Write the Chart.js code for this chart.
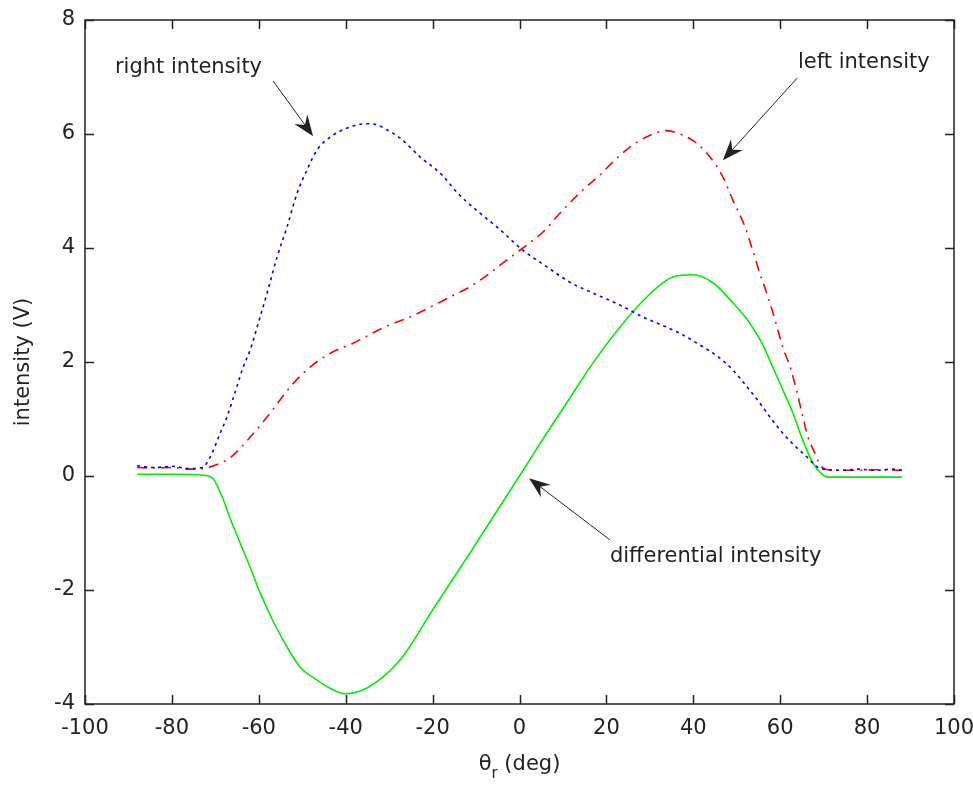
<!DOCTYPE html>
<html lang="en">
<head>
    <meta charset="UTF-8">
    <title>Intensity vs angle</title>
    <script src="https://cdn.jsdelivr.net/npm/chart.js"></script>
    <style>
        body { margin: 0; background: #fff; }
        canvas { display: block; }
    </style>
</head>
<body>
    <canvas id="intensityChart" width="973" height="785"></canvas>

    <script>
        // angles (deg) and readings for each trace
        const rightAngle = [-88, -84, -80, -76, -73, -71.2, -68.9, -67.3, -65.5, -63.6, -62, -59.7, -57.9, -55.8, -53.5, -51.2, -48.9, -46.6, -42.9, -37.4, -35, -32.8, -29.8, -27.5, -22.9, -17.8, -14.2, -9.1, -5.2, 0.8, 6.3, 11.6, 16.9, 23.1, 28.4, 36.2, 41.5, 46.1, 49.1, 52.4, 55.3, 57.6, 60.6, 63.9, 66.2, 68.5, 70, 74, 78, 82, 86, 88];
        const rightIntensity = [0.18, 0.15, 0.17, 0.13, 0.15, 0.33, 0.75, 1.04, 1.46, 1.91, 2.21, 2.79, 3.26, 3.84, 4.37, 4.96, 5.37, 5.72, 5.98, 6.16, 6.18, 6.16, 6.04, 5.93, 5.6, 5.28, 4.96, 4.61, 4.37, 3.96, 3.67, 3.4, 3.21, 3.0, 2.79, 2.53, 2.3, 2.07, 1.86, 1.56, 1.28, 1.04, 0.75, 0.49, 0.33, 0.16, 0.12, 0.1, 0.12, 0.1, 0.12, 0.1];

        const leftAngle = [-88, -84, -80, -76, -73, -71.2, -66.6, -62, -57.4, -52.8, -48.2, -42.9, -38.3, -31.4, -25.2, -20.6, -16, -11.4, -6.8, -2.9, 0.8, 5.4, 9.3, 14.6, 18.5, 21.5, 25.4, 29.3, 33.9, 36.9, 40.4, 43.8, 46.8, 49.1, 51.9, 53.5, 55.3, 57.2, 58.8, 60.6, 62.3, 63.9, 65.2, 66.4, 68, 69.2, 70.5, 74, 78, 82, 86, 88];
        const leftIntensity = [0.15, 0.14, 0.15, 0.12, 0.13, 0.16, 0.32, 0.68, 1.1, 1.56, 1.91, 2.18, 2.33, 2.6, 2.79, 2.96, 3.14, 3.32, 3.56, 3.79, 4.0, 4.28, 4.61, 5.02, 5.28, 5.51, 5.77, 5.95, 6.06, 6.0, 5.86, 5.6, 5.25, 4.84, 4.37, 4.0, 3.56, 3.14, 2.74, 2.26, 1.91, 1.46, 1.04, 0.68, 0.4, 0.19, 0.12, 0.1, 0.1, 0.11, 0.1, 0.1];

        const diffAngle = [-88, -80, -72, -70.5, -68.5, -66.6, -62, -59.7, -57, -54.4, -50.5, -46.6, -42.9, -40.2, -35.1, -27.5, -20, -11.4, 0, 5, 11.6, 16.9, 23.1, 29.3, 35.3, 39.9, 44.5, 49.1, 53, 55.8, 58.3, 60.6, 62.9, 65.2, 67.5, 69.8, 71, 80, 88];
        const diffIntensity = [0.03, 0.03, 0.01, -0.05, -0.35, -0.74, -1.6, -2.05, -2.5, -2.88, -3.35, -3.58, -3.75, -3.82, -3.72, -3.23, -2.35, -1.35, 0, 0.6, 1.37, 1.98, 2.61, 3.14, 3.49, 3.53, 3.39, 3.04, 2.68, 2.33, 1.91, 1.51, 1.11, 0.63, 0.23, 0.02, -0.02, -0.02, -0.02];

        const xTicks = [-100, -80, -60, -40, -20, 0, 20, 40, 60, 80, 100];
        const yTicks = [-4, -2, 0, 2, 4, 6, 8];

        // text label, label anchor, arrow start, arrow tip (data coords)
        const notes = [
            { text: 'right intensity', at: [-93.1, 7.16], from: [-56.7, 6.93], to: [-47.5, 5.96] },
            { text: 'left intensity', at: [64.1, 7.25], from: [63.9, 6.98], to: [46.8, 5.54] },
            { text: 'differential intensity', at: [20.8, -1.42], from: [20.8, -1.12], to: [2.2, -0.04] }
        ];

        const FONT = '21px "DejaVu Sans", sans-serif';
        const INK = '#222';

        function toPoints(xs, ys) {
            return xs.map((x, i) => ({ x: x, y: ys[i] }));
        }

        function arrow(ctx, x1, y1, x2, y2) {
            const ang = Math.atan2(y2 - y1, x2 - x1);
            const len = 21, half = 8, notch = 14;
            ctx.beginPath();
            ctx.moveTo(x1, y1);
            ctx.lineTo(x2 - Math.cos(ang) * notch, y2 - Math.sin(ang) * notch);
            ctx.stroke();
            const bx = x2 - Math.cos(ang) * len, by = y2 - Math.sin(ang) * len;
            const nx = x2 - Math.cos(ang) * notch, ny = y2 - Math.sin(ang) * notch;
            ctx.beginPath();
            ctx.moveTo(x2, y2);
            ctx.lineTo(bx - Math.sin(ang) * half, by + Math.cos(ang) * half);
            ctx.lineTo(nx, ny);
            ctx.lineTo(bx + Math.sin(ang) * half, by - Math.cos(ang) * half);
            ctx.closePath();
            ctx.fill();
        }

        const frame = {
            id: 'frame',
            afterDraw(chart) {
                const ctx = chart.ctx;
                const a = chart.chartArea;
                const sx = chart.scales.x, sy = chart.scales.y;
                ctx.save();
                ctx.strokeStyle = '#222';
                ctx.lineWidth = 1.5;
                ctx.strokeRect(a.left, a.top, a.right - a.left, a.bottom - a.top);

                // inward ticks on all four sides
                const tl = 9;
                ctx.beginPath();
                xTicks.forEach(v => {
                    const px = Math.round(sx.getPixelForValue(v)) + 0.5;
                    ctx.moveTo(px, a.bottom); ctx.lineTo(px, a.bottom - tl);
                    ctx.moveTo(px, a.top); ctx.lineTo(px, a.top + tl);
                });
                yTicks.forEach(v => {
                    const py = Math.round(sy.getPixelForValue(v)) + 0.5;
                    ctx.moveTo(a.left, py); ctx.lineTo(a.left + tl, py);
                    ctx.moveTo(a.right, py); ctx.lineTo(a.right - tl, py);
                });
                ctx.stroke();

                // annotations
                ctx.fillStyle = INK;
                ctx.strokeStyle = INK;
                ctx.lineWidth = 1;
                ctx.font = FONT;
                ctx.textAlign = 'left';
                ctx.textBaseline = 'middle';
                notes.forEach(n => {
                    ctx.fillText(n.text, sx.getPixelForValue(n.at[0]), sy.getPixelForValue(n.at[1]));
                    arrow(ctx,
                        sx.getPixelForValue(n.from[0]), sy.getPixelForValue(n.from[1]),
                        sx.getPixelForValue(n.to[0]), sy.getPixelForValue(n.to[1]));
                });

                // y axis title
                ctx.save();
                ctx.translate(24, (a.top + a.bottom) / 2);
                ctx.rotate(-Math.PI / 2);
                ctx.textAlign = 'center';
                ctx.fillText('intensity (V)', 0, 0);
                ctx.restore();

                // x axis title with subscript
                ctx.textBaseline = 'alphabetic';
                const small = '15px "DejaVu Sans", sans-serif';
                ctx.font = FONT;
                const w1 = ctx.measureText('\u03B8').width;
                const w3 = ctx.measureText(' (deg)').width;
                ctx.font = small;
                const w2 = ctx.measureText('r').width;
                let x0 = (a.left + a.right) / 2 - (w1 + w2 + w3) / 2;
                const base = 770;
                ctx.font = FONT;
                ctx.fillText('\u03B8', x0, base);
                ctx.font = small;
                ctx.fillText('r', x0 + w1, base + 8);
                ctx.font = FONT;
                ctx.fillText(' (deg)', x0 + w1 + w2, base);
                ctx.restore();
            }
        };

        const ctx = document.getElementById('intensityChart').getContext('2d');
        new Chart(ctx, {
            type: 'line',
            data: {
                datasets: [
                    {
                        label: 'right intensity',
                        data: toPoints(rightAngle, rightIntensity),
                        borderColor: '#0000ff',
                        borderWidth: 1.6,
                        borderDash: [3, 4],
                        pointRadius: 0,
                        cubicInterpolationMode: 'monotone'
                    },
                    {
                        label: 'left intensity',
                        data: toPoints(leftAngle, leftIntensity),
                        borderColor: '#ff0000',
                        borderWidth: 1.6,
                        borderDash: [10, 6, 2, 6],
                        pointRadius: 0,
                        cubicInterpolationMode: 'monotone'
                    },
                    {
                        label: 'differential intensity',
                        data: toPoints(diffAngle, diffIntensity),
                        borderColor: '#00ee00',
                        borderWidth: 1.6,
                        pointRadius: 0,
                        cubicInterpolationMode: 'monotone'
                    }
                ]
            },
            options: {
                responsive: false,
                animation: false,
                events: [],
                layout: { padding: { left: 0, top: 20, right: 19, bottom: 0 } },
                plugins: {
                    legend: { display: false },
                    tooltip: { enabled: false }
                },
                scales: {
                    x: {
                        type: 'linear',
                        min: -100,
                        max: 100,
                        afterFit: s => { s.height = 81; s.paddingLeft = 0; s.paddingRight = 0; },
                        afterBuildTicks: s => { s.ticks = xTicks.map(v => ({ value: v })); },
                        grid: { display: false, drawTicks: false },
                        border: { display: false },
                        ticks: { color: INK, font: { family: '"DejaVu Sans", sans-serif', size: 21 }, padding: 12, maxRotation: 0, autoSkip: false }
                    },
                    y: {
                        min: -4,
                        max: 8,
                        afterFit: s => { s.width = 85; s.paddingTop = 0; s.paddingBottom = 0; },
                        afterBuildTicks: s => { s.ticks = yTicks.map(v => ({ value: v })); },
                        grid: { display: false, drawTicks: false },
                        border: { display: false },
                        ticks: { color: INK, font: { family: '"DejaVu Sans", sans-serif', size: 21 }, padding: 10 }
                    }
                }
            },
            plugins: [frame]
        });
    </script>
</body>
</html>
